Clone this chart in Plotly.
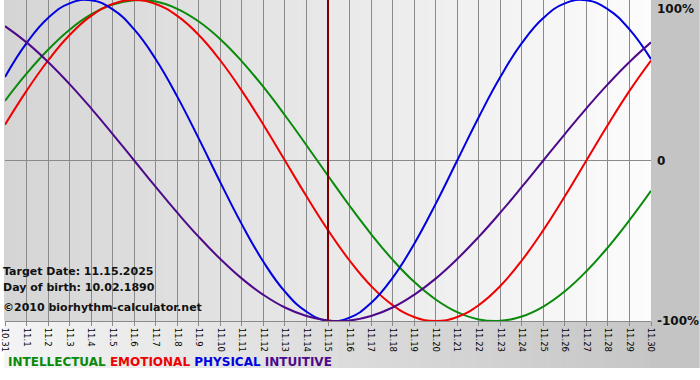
import plotly.graph_objects as go

# ---- data ----
dates = ["10.31", "11.1", "11.2", "11.3", "11.4", "11.5", "11.6", "11.7", "11.8", "11.9",
         "11.10", "11.11", "11.12", "11.13", "11.14", "11.15", "11.16", "11.17", "11.18",
         "11.19", "11.20", "11.21", "11.22", "11.23", "11.24", "11.25", "11.26", "11.27",
         "11.28", "11.29", "11.30"]
physical = [52.0, 73.1, 88.8, 97.9, 99.8, 94.2, 81.7, 63.1, 39.8, 13.6, -13.6, -39.8, -63.1, -81.7,
            -94.2, -99.8, -97.9, -88.8, -73.1, -52.0, -27.0, 0.0, 27.0, 52.0, 73.1, 88.8, 97.9,
            99.8, 94.2, 81.7, 63.1]
emotional = [22.3, 43.4, 62.3, 78.2, 90.1, 97.5, 100.0, 97.5, 90.1, 78.2, 62.3, 43.4, 22.3, 0.0,
             -22.3, -43.4, -62.3, -78.2, -90.1, -97.5, -100.0, -97.5, -90.1, -78.2, -62.3, -43.4,
             -22.3, 0.0, 22.3, 43.4, 62.3]
intellectual = [37.2, 54.1, 69.0, 81.5, 91.0, 97.2, 99.9, 99.0, 94.5, 86.6, 75.6, 61.8, 45.8, 28.2,
                9.5, -9.5, -28.2, -45.8, -61.8, -75.6, -86.6, -94.5, -99.0, -99.9, -97.2, -91.0,
                -81.5, -69.0, -54.1, -37.2, -18.9]
intuitive = [83.7, 73.6, 61.4, 47.6, 32.5, 16.5, 0.0, -16.5, -32.5, -47.6, -61.4, -73.6, -83.7,
             -91.6, -96.9, -99.7, -99.7, -96.9, -91.6, -83.7, -73.6, -61.4, -47.6, -32.5, -16.5,
             0.0, 16.5, 32.5, 47.6, 61.4, 73.6]
target_day = "11.15"
y_labels = ["100%", "0", "-100%"]
y_label_vals = [100, 0, -100]
info_lines = ["Target Date: 11.15.2025", "Day of birth: 10.02.1890", "\u00a92010 biorhythm-calculator.net"]
series_names = ["INTELLECTUAL", "EMOTIONAL", "PHYSICAL", "INTUITIVE"]

# ---- geometry helpers (pixel -> paper) ----
L, R, T, B = 1, 49, 0, 59
PW, PH = 700 - L - R, 380 - T - B


def px(x):
    return (x - L) / PW


def py(y):
    return (T + PH - y) / PH


def lerp_gray(a, b, t):
    v = round(a + (b - a) * t)
    return f"rgb({v},{v},{v})"


shapes = []
step = 4
for x0 in range(0, 652, step):
    x1 = min(x0 + step + 1, 652)
    shapes.append(dict(type="rect", xref="paper", yref="paper", x0=px(x0), x1=px(x1),
                       y0=py(321), y1=py(0), line_width=0, layer="below",
                       fillcolor=lerp_gray(0xd5, 0xfc, x0 / 651)))
for x0 in range(0, 652, step):
    x1 = min(x0 + step + 1, 652)
    shapes.append(dict(type="rect", xref="paper", yref="paper", x0=px(x0), x1=px(x1),
                       y0=py(368), y1=py(321), line_width=0, layer="below",
                       fillcolor=lerp_gray(0xf4, 0xc6, x0 / 651)))
shapes.append(dict(type="rect", xref="paper", yref="paper", x0=px(651), x1=px(700),
                   y0=py(368), y1=py(0), line_width=0, layer="below", fillcolor="rgb(196,196,196)"))

fig = go.Figure()
colors = {"INTELLECTUAL": "#0a8a0a", "EMOTIONAL": "#f00000", "PHYSICAL": "#0000e0", "INTUITIVE": "#4e0a8a"}
for name, vals in [("INTELLECTUAL", intellectual), ("EMOTIONAL", emotional),
                   ("PHYSICAL", physical), ("INTUITIVE", intuitive)]:
    fig.add_trace(go.Scatter(x=dates, y=vals, mode="lines", name=name,
                             line=dict(color=colors[name], width=2, shape="spline", smoothing=1.3),
                             cliponaxis=False, hoverinfo="skip"))
fig.add_trace(go.Scatter(x=[target_day, target_day], y=[-100, 100], mode="lines",
                         line=dict(color="#800000", width=2), hoverinfo="skip"))

annotations = []
for txt, v in zip(y_labels, y_label_vals):
    annotations.append(dict(xref="paper", yref="y", x=px(655), y=v, text=f"<b>{txt}</b>",
                            showarrow=False, xanchor="left",
                            yanchor="top" if v == 100 else "middle",
                            font=dict(family="DejaVu Sans", size=12, color="#111111")))
for txt, ypix in zip(info_lines, [271, 287, 307]):
    annotations.append(dict(xref="paper", yref="paper", x=px(-3), y=py(ypix), text=f"<b>{txt}</b>",
                            showarrow=False, xanchor="left", yanchor="middle",
                            font=dict(family="DejaVu Sans", size=11, color="#111111")))
legend_txt = " ".join(f'<span style="color:{colors[n]}">{n}</span>' for n in series_names)
annotations.append(dict(xref="paper", yref="paper", x=px(2), y=py(362), text=f"<b>{legend_txt}</b>",
                        showarrow=False, xanchor="left", yanchor="middle",
                        font=dict(family="DejaVu Sans", size=12)))

fig.update_layout(
    width=700, height=380,
    margin=dict(l=L, r=R, t=T, b=B, pad=0),
    paper_bgcolor="white", plot_bgcolor="rgba(0,0,0,0)",
    showlegend=False, shapes=shapes, annotations=annotations,
    xaxis=dict(type="category", range=[0, 30], showgrid=True, gridcolor="#8a8a8a", gridwidth=1,
               ticks="outside", ticklen=4, tickcolor="#8a8a8a", tickangle=90,
               tickfont=dict(family="DejaVu Sans", size=8.5, color="black"),
               showline=True, linecolor="#8a8a8a", linewidth=1, zeroline=False, fixedrange=True),
    yaxis=dict(range=[-100, 100], showgrid=False, showticklabels=False, ticks="",
               zeroline=True, zerolinecolor="#8a8a8a", zerolinewidth=1, showline=False, fixedrange=True),
)

fig.write_html("out.html", config={"displayModeBar": False},
               post_script="document.body.style.margin='0px';document.body.style.overflow='hidden';")
